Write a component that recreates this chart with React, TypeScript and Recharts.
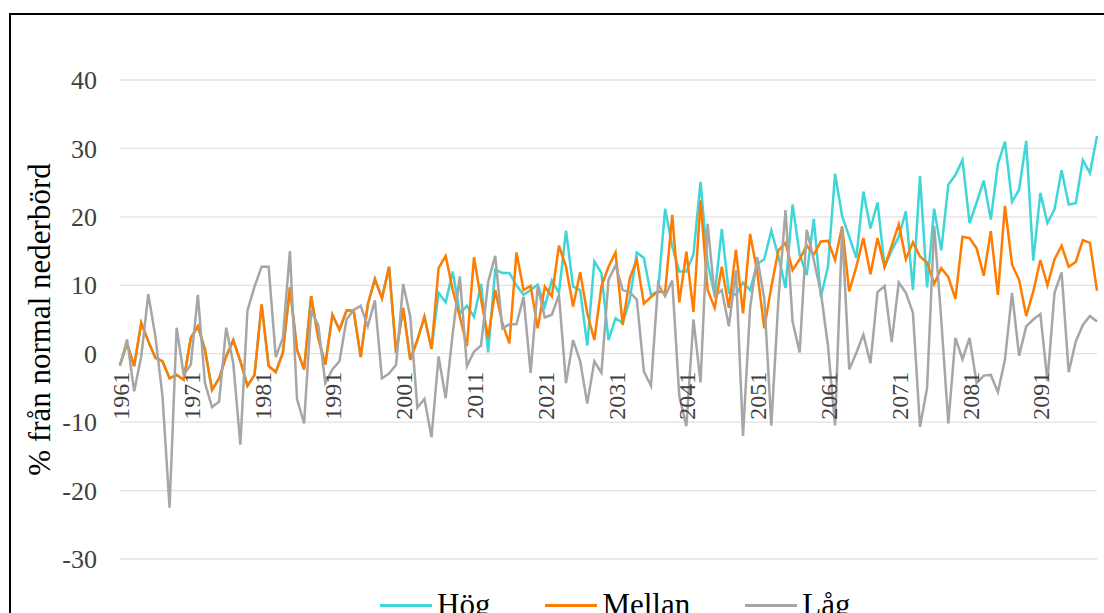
import { LineChart, Line, XAxis, YAxis, CartesianGrid, Legend, Label } from "recharts";

const FONT = '"Liberation Serif", "Times New Roman", serif';

const FIRST_YEAR = 1961;

// 1961–2005: Hög och Mellan följer samma kurva
const historical = [
  -1.6, 1.5, -1.8, 4.5, 1.8, -0.6, -1.1, -3.6, -3.1, -3.8,
  2.3, 4.0, 0.6, -5.3, -3.6, -0.4, 2.0, -1.1, -4.7, -3.1,
  7.2, -1.8, -2.7, 0.1, 9.7, 0.6, -2.3, 8.4, 2.3, -1.6,
  5.7, 3.5, 6.3, 6.3, -0.5, 7.2, 10.9, 8.1, 12.7, 0.1,
  6.7, -0.9, 2.0, 5.4, 0.7,
];

// 2006–2099
const hogProj = [
  8.9, 7.5, 12.0, 5.9, 7.0,
  5.4, 10.2, 0.2, 12.3, 11.8, 11.8, 10.0, 8.6, 9.3, 10.1,
  6.9, 10.7, 8.9, 18.0, 9.8, 9.3, 1.2, 13.5, 11.8, 2.0,
  5.2, 4.5, 7.9, 14.8, 14.0, 8.6, 9.1, 21.2, 15.7, 12.0,
  12.0, 14.5, 25.1, 13.2, 8.6, 18.2, 8.9, 8.6, 10.4, 9.3,
  13.1, 13.8, 18.0, 14.2, 9.6, 21.8, 14.5, 11.5, 19.7, 8.3,
  12.7, 26.3, 20.1, 17.1, 14.0, 23.7, 18.3, 22.1, 12.7, 15.1,
  17.1, 20.8, 9.3, 26.0, 9.7, 21.2, 15.1, 24.7, 26.1, 28.3,
  19.1, 22.1, 25.3, 19.6, 27.7, 31.0, 22.2, 24.0, 31.1, 13.6,
  23.5, 19.1, 21.1, 26.8, 21.8, 22.0, 28.3, 26.4, 31.8,
];

const mellanProj = [
  12.5, 14.3, 9.3, 5.4, 1.1,
  14.1, 7.9, 2.3, 9.3, 4.5, 1.5, 14.8, 9.3, 9.9, 3.7,
  9.8, 8.4, 15.8, 12.7, 6.9, 11.9, 5.9, 2.0, 9.8, 12.7,
  14.8, 4.2, 11.0, 13.7, 7.3, 8.3, 9.1, 9.0, 20.3, 7.5,
  14.9, 6.1, 22.4, 9.3, 6.7, 12.7, 6.7, 15.2, 5.9, 17.5,
  12.0, 3.7, 9.8, 15.1, 16.2, 12.2, 13.8, 15.8, 14.5, 16.4,
  16.5, 13.7, 18.6, 9.1, 12.7, 16.9, 11.6, 16.9, 12.7, 15.8,
  18.9, 13.8, 16.3, 14.2, 13.3, 10.2, 12.5, 11.2, 8.0, 17.1,
  16.9, 15.4, 11.4, 17.9, 8.6, 21.6, 13.0, 10.8, 5.5, 9.1,
  13.7, 10.0, 13.8, 15.8, 12.7, 13.4, 16.6, 16.2, 9.2,
];

// 1961–2099
const lag = [
  -1.8, 2.1, -5.5, -0.4, 8.7, 2.5, -6.2, -22.5, 3.8, -3.1,
  -1.6, 8.6, -4.3, -7.8, -7.0, 3.8, -1.4, -13.3, 6.3, 9.8,
  12.7, 12.7, -0.5, 2.3, 15.0, -6.6, -10.2, 6.2, 4.2, -4.3,
  -2.3, -1.1, 5.0, 6.4, 7.0, 4.0, 7.8, -3.6, -2.9, -1.6,
  10.2, 5.4, -7.9, -6.6, -12.2, -0.4, -6.5, 3.0, 11.3, -1.8,
  0.3, 1.2, 10.5, 14.3, 3.7, 4.3, 4.3, 8.3, -2.8, 9.8,
  5.3, 5.7, 8.6, -4.3, 2.0, -1.1, -7.3, -1.1, -2.8, 10.8,
  12.9, 9.3, 9.0, 7.9, -2.6, -4.7, 10.2, 8.4, 10.7, -6.2,
  -10.6, 5.0, -4.2, 19.0, 8.4, 9.3, 4.0, 12.2, -12.0, 6.7,
  14.1, 8.1, -10.5, 7.9, 21.0, 4.7, 0.2, 18.1, 13.7, 8.9,
  1.2, -10.5, 18.3, -2.3, 0.1, 2.8, -1.4, 9.0, 9.9, 1.7,
  10.4, 8.9, 6.0, -10.7, -5.0, 18.7, 5.0, -10.2, 2.3, -0.8,
  2.3, -4.3, -3.2, -3.1, -5.6, -0.9, 8.9, -0.3, 4.0, 5.0,
  5.8, -4.0, 8.9, 11.9, -2.7, 1.8, 4.2, 5.5, 4.7,
];

const seriesNames = ["Hög", "Mellan", "Låg"];
const seriesColors = ["#3ed6d6", "#ff7c00", "#a6a6a6"];

const yTicks = [-30, -20, -10, 0, 10, 20, 30, 40];
const Y_MIN = -30;
const Y_MAX = 40;

const hog = [...historical, ...hogProj];
const mellan = [...historical, ...mellanProj];
const years = lag.map((_, i) => FIRST_YEAR + i);
const seriesValues = [hog, mellan, lag];

const data = years.map((year, i) => {
  const row: any = { year };
  seriesNames.forEach((name, s) => (row[name] = seriesValues[s][i]));
  return row;
});

const W = 1104;
const H = 640;
const MARGIN = { top: 80, right: 7, bottom: 61, left: 0 };
const X_AXIS_H = 20;
const PLOT_H = H - MARGIN.top - MARGIN.bottom - X_AXIS_H;

// year labels sit on the zero line, not at the bottom of the plot
const YearTick = (props: any) => {
  const { x, y, payload } = props;
  const zeroY = y - (PLOT_H * (0 - Y_MIN)) / (Y_MAX - Y_MIN);
  return (
    <text
      transform={`translate(${x + 9},${zeroY + 18}) rotate(-90)`}
      textAnchor="end"
      fontSize={24}
      style={{ fontFamily: FONT }}
      fill="#404040"
    >
      {payload.value}
    </text>
  );
};

const ValueTick = (props: any) => {
  const { x, y, payload } = props;
  return (
    <text x={x} y={y} dy="0.35em" textAnchor="end" fontSize={26} style={{ fontFamily: FONT }} fill="#404040">
      {payload.value}
    </text>
  );
};

const renderTitle = (props: any) => {
  const { viewBox } = props;
  return (
    <text
      transform={`translate(${viewBox.x + 50},${viewBox.y + viewBox.height / 2}) rotate(-90)`}
      textAnchor="middle"
      fontSize={31}
      style={{ fontFamily: FONT }}
      fill="#000"
    >
      % från normal nederbörd
    </text>
  );
};

const renderLegend = (props: any) => {
  const items = [...props.payload].sort(
    (a: any, b: any) => seriesNames.indexOf(a.value) - seriesNames.indexOf(b.value)
  );
  return (
    <div style={{ display: "flex", marginLeft: 380, gap: 55, fontFamily: FONT, fontSize: 31, color: "#000" }}>
      {items.map((entry: any) => (
        <div key={entry.value} style={{ display: "flex", alignItems: "center" }}>
          <span style={{ display: "inline-block", width: 52, height: 3, background: entry.color, marginRight: 5 }} />
          <span>{entry.value}</span>
        </div>
      ))}
    </div>
  );
};

export default function App() {
  return (
    <div style={{ position: "absolute", left: 0, top: 0, width: W, height: 613, overflow: "hidden", background: "#fff", fontFamily: FONT }}>
      <div style={{ position: "absolute", left: 9, top: 13, width: 1300, height: 800, border: "2px solid #000" }} />
      <div style={{ position: "absolute", left: 0, top: 0 }}>
        <LineChart width={W} height={H} data={data} margin={MARGIN} style={{ fontFamily: FONT }}>
          <CartesianGrid vertical={false} stroke="#e2e2e2" strokeWidth={1.3} />
          <XAxis
            dataKey="year"
            interval={9}
            height={X_AXIS_H}
            axisLine={false}
            tickLine={false}
            tickSize={0}
            tickMargin={0}
            tick={<YearTick />}
          />
          <YAxis
            width={120}
            domain={[Y_MIN, Y_MAX]}
            ticks={yTicks}
            axisLine={false}
            tickLine={false}
            tickSize={0}
            tickMargin={23}
            tick={<ValueTick />}
          >
            <Label content={renderTitle} />
          </YAxis>
          <Legend
            layout="horizontal"
            verticalAlign="middle"
            content={renderLegend}
            wrapperStyle={{ top: 587, left: 0, width: W }}
          />
          {seriesNames.map((name, s) => (
            <Line
              key={name}
              dataKey={name}
              stroke={seriesColors[s]}
              strokeWidth={2.5}
              dot={false}
              isAnimationActive={false}
            />
          ))}
        </LineChart>
      </div>
    </div>
  );
}
